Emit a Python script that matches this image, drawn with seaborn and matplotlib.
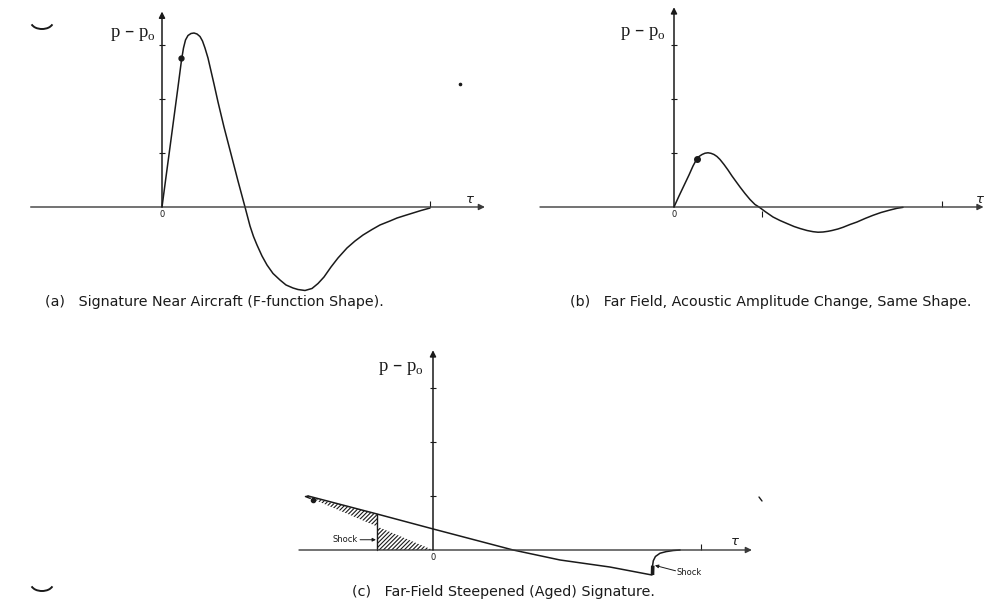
import numpy as np
import pandas as pd
import matplotlib
matplotlib.use("Agg")
import matplotlib.pyplot as plt
from matplotlib.patches import Arc
from matplotlib.lines import Line2D
import seaborn as sns

# ---- signature data (tau, p - p0) ----
# (a) near-field F-function shaped signature
tau_a = [0.0, 0.0149, 0.0299, 0.0448, 0.0597, 0.0728, 0.0802, 0.0877, 0.0970, 0.1082,
         0.1194, 0.1306, 0.1418, 0.1511, 0.1604, 0.1716, 0.1828, 0.1940, 0.2090, 0.2313,
         0.2575, 0.2836, 0.3097, 0.3284, 0.3414, 0.3545, 0.3731, 0.3918, 0.4142, 0.4403,
         0.4627, 0.4888, 0.5075, 0.5336, 0.5597, 0.5821, 0.6045, 0.6306, 0.6567, 0.6903,
         0.7201, 0.7500, 0.7836, 0.8134, 0.8507, 0.8769, 0.9067, 0.9366, 0.9664, 1.0]
dp_a = [0.0, 0.556, 1.111, 1.667, 2.222, 2.722, 2.944, 3.093, 3.176, 3.213,
        3.222, 3.204, 3.157, 3.074, 2.944, 2.759, 2.519, 2.278, 1.944, 1.481,
        0.981, 0.481, 0.0, -0.352, -0.546, -0.704, -0.907, -1.074, -1.231, -1.352,
        -1.444, -1.500, -1.528, -1.546, -1.509, -1.417, -1.296, -1.111, -0.944, -0.759,
        -0.630, -0.519, -0.417, -0.333, -0.259, -0.204, -0.157, -0.111, -0.065, -0.019]
marker_a = (0.071, 2.76)

# (b) far field, acoustic amplitude change
tau_b = [0.0, 0.0187, 0.0373, 0.0560, 0.0709, 0.0840, 0.0933, 0.1045, 0.1157, 0.1269,
         0.1381, 0.1493, 0.1604, 0.1716, 0.1866, 0.2015, 0.2164, 0.2313, 0.2463, 0.2649,
         0.2836, 0.3022, 0.3172, 0.3396, 0.3694, 0.3955, 0.4216, 0.4478, 0.4701, 0.4963,
         0.5187, 0.5373, 0.5560, 0.5746, 0.5896, 0.6119, 0.6306, 0.6567, 0.6828, 0.7127,
         0.7425, 0.7724, 0.8060, 0.8321, 0.8545]
dp_b = [0.0, 0.204, 0.398, 0.593, 0.759, 0.880, 0.935, 0.972, 0.996, 1.004,
        0.994, 0.972, 0.935, 0.880, 0.787, 0.685, 0.574, 0.472, 0.370, 0.250,
        0.139, 0.046, 0.0, -0.083, -0.185, -0.250, -0.306, -0.361, -0.398, -0.435,
        -0.457, -0.467, -0.463, -0.450, -0.435, -0.407, -0.376, -0.324, -0.278, -0.213,
        -0.154, -0.102, -0.056, -0.024, -0.006]
marker_b = (0.086, 0.89)

# (c) steepened (aged) signature
tau_c = [-0.466, -0.209, 0.0, 0.299, 0.474, 0.660, 0.817, 0.819, 0.822, 0.830, 0.847,
         0.870, 0.896, 0.922]
dp_c = [1.0, 0.667, 0.39, 0.0, -0.185, -0.315, -0.463, -0.30, -0.20, -0.12, -0.06,
        -0.03, -0.01, 0.0]
# original (unsteepened) front, running back from the origin
tau_orig = [-0.458, 0.0]
dp_orig = [0.955, 0.0]
front_shock_tau = -0.209
rear_shock = ([0.819, 0.820], [-0.463, -0.29])
marker_c = (-0.448, 0.93)

captions = ["(a)   Signature Near Aircraft (F-function Shape).",
            "(b)   Far Field, Acoustic Amplitude Change, Same Shape.",
            "(c)   Far-Field Steepened (Aged) Signature."]
ylabel = r"p – p$_\mathregular{o}$"
y_ticks = [1, 2, 3]

sns.set_theme(style="white")
plt.rcParams["font.family"] = ["DejaVu Sans"]
plt.rcParams["hatch.linewidth"] = 0.8
plt.rcParams["hatch.color"] = "#1a1a1a"

W, H = 985, 607
fig = plt.figure(figsize=(W / 100, H / 100), dpi=100)
fig.patch.set_facecolor("white")

UX, UY = 268.0, 54.0  # pixels per unit tau / unit pressure
INK = "#1a1a1a"
AXIS = "#3a3a3a"


def panel(x0, y0, xlim, ylim):
    left = x0 + UX * xlim[0]
    right = x0 + UX * xlim[1]
    top = y0 - UY * ylim[1]
    bottom = y0 - UY * ylim[0]
    ax = fig.add_axes([left / W, 1 - bottom / H, (right - left) / W, (bottom - top) / H])
    ax.set_xlim(*xlim)
    ax.set_ylim(*ylim)
    ax.set_axis_off()
    return ax


def frame(ax, xmin, xmax, ytop, lab_xy, tau_xy):
    ax.annotate("", xy=(xmax, 0), xytext=(xmin, 0),
                arrowprops=dict(arrowstyle="-|>", lw=1.0, color=AXIS, mutation_scale=9,
                                shrinkA=0, shrinkB=0))
    ax.annotate("", xy=(0, ytop), xytext=(0, 0),
                arrowprops=dict(arrowstyle="-|>", lw=1.1, color=INK, mutation_scale=9,
                                shrinkA=0, shrinkB=0))
    ax.plot([0] * len(y_ticks), y_ticks, ls="none", marker="_", ms=5, mew=0.8, color=INK)
    ax.plot([1.0], [0.06], ls="none", marker="|", ms=5, mew=0.8, color=INK)
    ax.text(0, -0.14, "0", ha="center", va="center", fontsize=6, color=INK)
    ax.text(*lab_xy, ylabel, ha="right", va="center", fontsize=13.5,
            family="Liberation Serif", color=INK)
    ax.text(*tau_xy, r"$\tau$", ha="center", va="center", fontsize=9.5, color=INK)


def curve(ax, xs, ys, lw=1.1):
    sns.lineplot(x=xs, y=ys, ax=ax, sort=False, estimator=None, color=INK, lw=lw, legend=False)


# ---- (a) ----
ax_a = panel(162, 207, (-0.6, 1.25), (-1.85, 3.75))
frame(ax_a, -0.49, 1.205, 3.62, (-0.025, 3.19), (1.15, 0.13))
curve(ax_a, tau_a, dp_a)
ax_a.plot(*marker_a, marker="o", ms=3.5, color=INK)

# ---- (b) ----
ax_b = panel(674, 207, (-0.55, 1.16), (-1.85, 3.75))
frame(ax_b, -0.5, 1.155, 3.7, (-0.03, 3.22), (1.14, 0.13))
curve(ax_b, tau_b, dp_b)
ax_b.plot(*marker_b, marker="o", ms=4, color=INK)
ax_b.plot([0.33], [-0.13], ls="none", marker="|", ms=4, mew=0.8, color=INK)

# ---- (c) ----
ax_c = panel(433, 550, (-0.55, 1.25), (-0.9, 3.8))
frame(ax_c, -0.5, 1.19, 3.7, (-0.035, 3.37), (1.127, 0.16))
curve(ax_c, tau_c, dp_c)
# tip of the front where aged and original fronts meet
curve(ax_c, [tau_c[0], -0.476, tau_orig[0]], [dp_c[0], 0.99, dp_orig[0]], lw=1.0)
ax_c.plot(*marker_c, marker="o", ms=3, color=INK)
ax_c.plot(*rear_shock, color=INK, lw=2.6, solid_capstyle="butt")

# equal-area hatched regions around the front shock
slope = dp_orig[0] / tau_orig[0]
y_orig_shock = slope * front_shock_tau
y_aged_shock = dp_c[1]
hatch_kw = dict(facecolor="none", edgecolor=INK, hatch="////////", lw=0)
ax_c.fill([tau_c[0], front_shock_tau, front_shock_tau],
          [dp_c[0] - 0.02, y_aged_shock, y_orig_shock], **hatch_kw)
ax_c.fill([front_shock_tau, front_shock_tau, 0.0],
          [0.0, y_orig_shock, 0.0], **hatch_kw)
ax_c.plot([front_shock_tau, front_shock_tau], [0.0, y_aged_shock], color=INK, lw=1.0)

small_arrow = dict(arrowstyle="-|>", lw=0.7, color=INK, mutation_scale=5,
                   shrinkA=0, shrinkB=0)
ax_c.text(-0.282, 0.19, "Shock", ha="right", va="center", fontsize=6, color=INK)
ax_c.annotate("", xy=(front_shock_tau - 0.004, 0.19), xytext=(-0.272, 0.19),
              arrowprops=small_arrow)
ax_c.text(0.91, -0.41, "Shock", ha="left", va="center", fontsize=6, color=INK)
ax_c.annotate("", xy=(0.828, -0.285), xytext=(0.905, -0.385), arrowprops=small_arrow)

# ---- captions ----
cap_kw = dict(fontsize=10.3, color=INK, va="center", ha="left", family="DejaVu Sans")
fig.text(45 / W, 1 - 302 / H, captions[0], **cap_kw)
fig.text(570 / W, 1 - 302 / H, captions[1], **cap_kw)
fig.text(352 / W, 1 - 592 / H, captions[2], **cap_kw)

# small margin marks on the page
for cy in (28, 590):
    fig.add_artist(Arc((42 / W, 1 - (cy - 6) / H), 22 / W, 14 / H, theta1=200, theta2=340,
                       transform=fig.transFigure, color=INK, lw=1.4))
fig.add_artist(Line2D([460 / W], [1 - 84 / H], transform=fig.transFigure, marker="o",
                      ms=1.6, color=INK, ls="none"))
fig.add_artist(Line2D([759 / W, 762 / W], [1 - 497 / H, 1 - 501 / H],
                      transform=fig.transFigure, color=INK, lw=1.0))

fig.savefig("out.png", dpi=100, facecolor="white")
